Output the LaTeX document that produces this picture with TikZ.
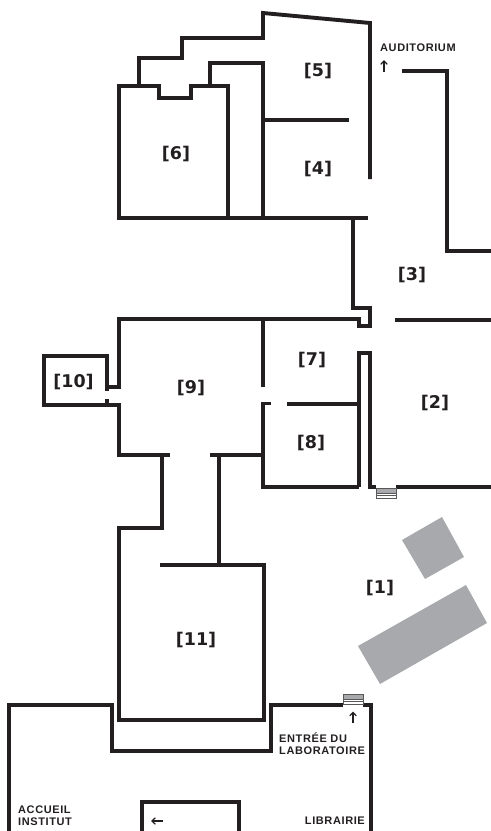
\documentclass[tikz,border=0pt]{standalone}
\usepackage{fontspec}
\setmainfont{Liberation Sans}
\newfontfamily\roomfont{DejaVu Sans}
\usetikzlibrary{arrows.meta}
\definecolor{ink}{HTML}{231F20}
\definecolor{slab}{HTML}{A7A9AC}
\newfontfamily\capfont[LetterSpace=5.5]{Liberation Sans Bold}
\tikzset{
  wall/.style={draw=ink,line width=3.9bp,line cap=butt,line join=miter},
  room/.style={font=\roomfont\bfseries\fontsize{17.5bp}{17.5bp}\selectfont,text=ink,inner sep=0pt},
  caption/.style={font=\capfont\fontsize{11bp}{11.7bp}\selectfont,text=ink,inner sep=0pt,align=left},
  pointer/.style={draw=ink,line width=1.2bp,-{Straight Barb[length=3.5bp,width=6.5bp]}},
}
\newcommand{\stairsat}[2]{%
  \fill[slab] (#1,#2) rectangle ++(20,5);
  \draw[ink!75,line width=.45bp] (#1,#2) rectangle ++(20,10);
  \foreach \k in {5,7.5}{\draw[ink!75,line width=.45bp] (#1,#2+\k) -- ++(20,0);}
}
\begin{document}
\begin{tikzpicture}[x=1bp,y=-1bp]
\useasboundingbox (0,0) rectangle (491,831);
% buildings outside
\fill[slab] (442,517) -- (464,557) -- (425,579) -- (402,540) -- cycle;
\fill[slab] (466,585) -- (487,623) -- (380,684) -- (358,646) -- cycle;
% top block
\draw[wall] (139,86) -- (139,58) -- (182,58) -- (182,38) -- (263,38) -- (263,13) -- (370,23) -- (370,179);
\draw[wall] (119,218) -- (119,86) -- (159,86) -- (159,98) -- (191,98) -- (191,86) -- (228,86) -- (228,218);
\draw[wall] (210,86) -- (210,63) -- (263,63) -- (263,218);
\draw[wall] (263,120) -- (349,120);
\draw[wall] (117.05,218) -- (368,218);
% auditorium wall
\draw[wall] (402,71) -- (447,71) -- (447,251) -- (491,251);
% passage
\draw[wall] (353,218) -- (353,308) -- (370,308) -- (370,326) -- (359,326) -- (359,319) -- (119,319) -- (119,387) -- (108,387);
\draw[wall] (395,320) -- (491,320);
% room 2, 7, 8
\draw[wall] (359,487) -- (359,353) -- (370,353) -- (370,487) -- (376,487);
\draw[wall] (396,487) -- (491,487);
\draw[wall] (263,319) -- (263,387);
\draw[wall] (271,403.5) -- (263,403.5) -- (263,487) -- (359,487);
\draw[wall] (287,404) -- (359,404);
% room 10
\draw[wall] (107,391) -- (107,356) -- (44,356) -- (44,405) -- (119,405) -- (119,455) -- (170,455);
\draw[wall] (107,399) -- (107,405);
% corridor to 11
\draw[wall] (210,455) -- (263,455);
\draw[wall] (162,455) -- (162,528) -- (119,528) -- (119,720) -- (264,720) -- (264,565) -- (160,565);
\draw[wall] (219,455) -- (219,565);
% entrance
\draw[wall] (9,831) -- (9,705) -- (112,705) -- (112,751) -- (271,751) -- (271,705) -- (343,705);
\draw[wall] (363,705) -- (371,705) -- (371,831);
\draw[wall] (142,831) -- (142,802) -- (239,802) -- (239,831);
% stairs
\stairsat{376}{488}
\stairsat{343}{694}
% labels
\node[room] (r5) at (318,71) {[5]};
\node[room] (r6) at (176,154) {[6]};
\node[room] (r4) at (318,169) {[4]};
\node[room] (r3) at (412,275) {[3]};
\node[room] (r7) at (312,360) {[7]};
\node[room] (r2) at (435,403) {[2]};
\node[room] (r9) at (191,388) {[9]};
\node[room] (r10) at (73.5,382) {[10]};
\node[room] (r8) at (311,443) {[8]};
\node[room] (r1) at (380,588) {[1]};
\node[room] (r11) at (196,640) {[11]};
\node[caption,anchor=west] (aud) at (380,48) {AUDITORIUM};
\node[caption,anchor=west] (ent) at (279,744) {ENTRÉE DU\\LABORATOIRE};
\node[caption,anchor=west] (acc) at (18,815.5) {ACCUEIL\\INSTITUT};
\node[caption,anchor=east] (lib) at (365,821) {LIBRAIRIE};
% pointers
\coordinate (a1) at (384,72); \coordinate (a2) at (384,60);
\coordinate (b1) at (353,723); \coordinate (b2) at (353,711.5);
\coordinate (c1) at (163,821); \coordinate (c2) at (151,821);
\draw[pointer] (a1) -- (a2);
\draw[pointer] (b1) -- (b2);
\draw[pointer] (c1) -- (c2);
\end{tikzpicture}
\end{document}
